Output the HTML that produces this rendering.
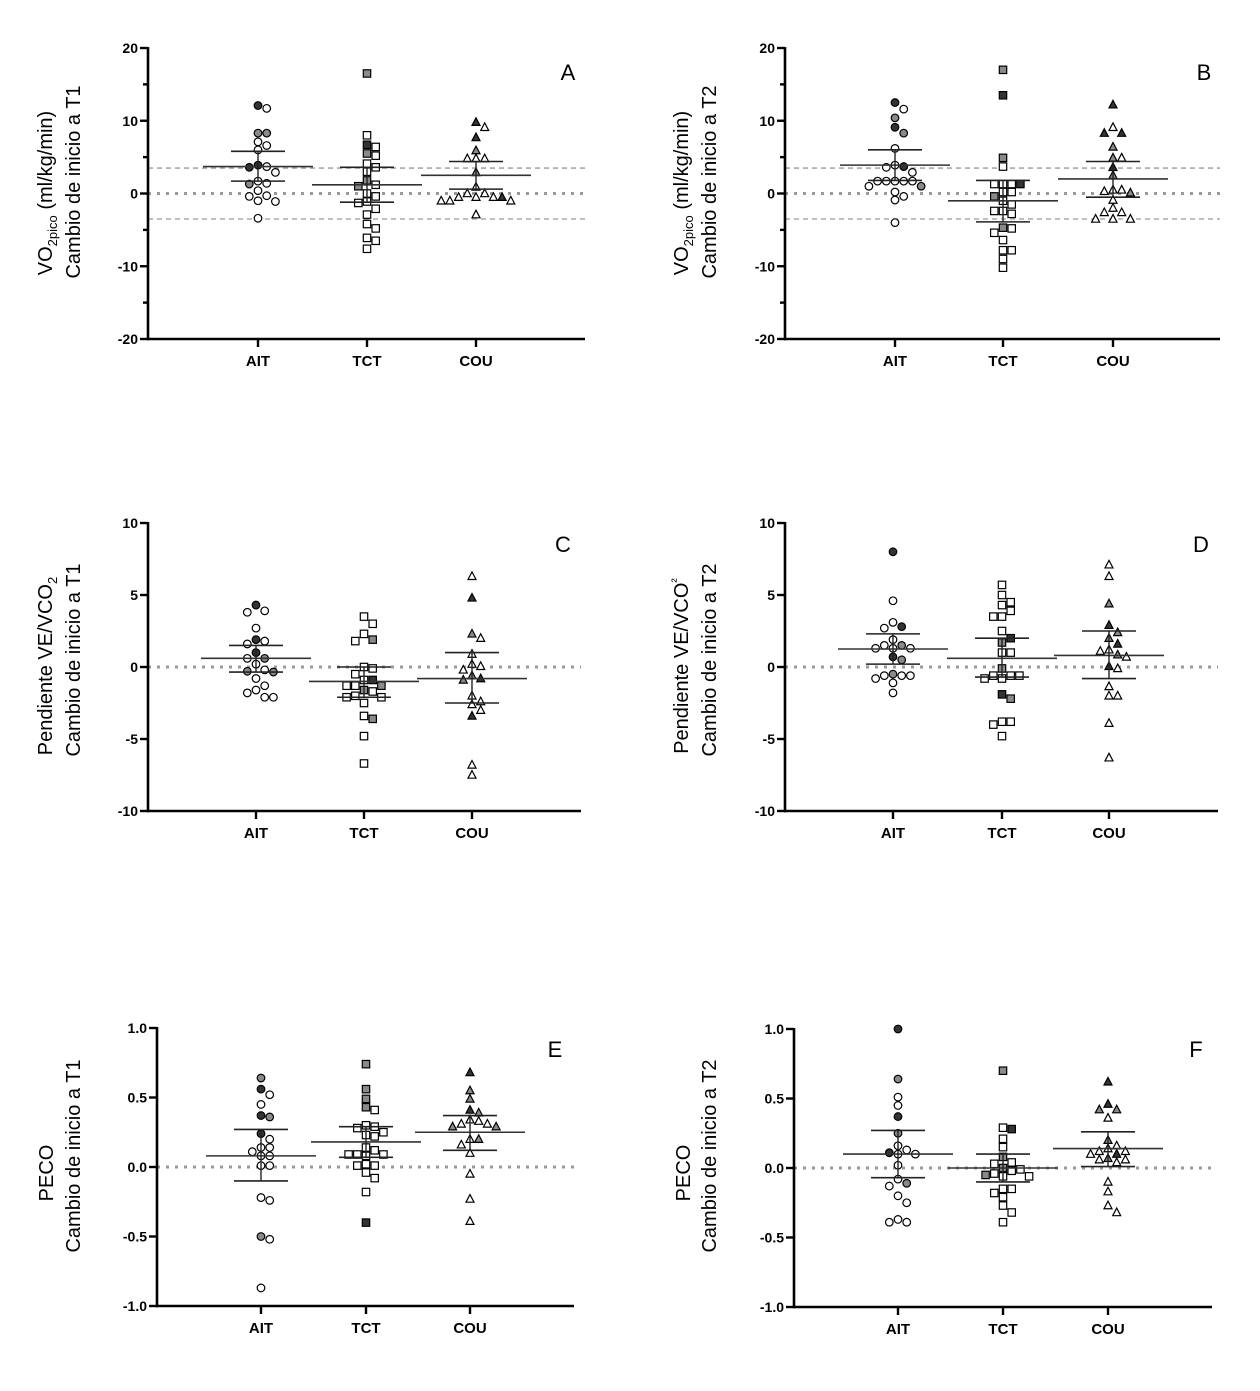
<!DOCTYPE html>
<html><head><meta charset="utf-8">
<style>
html,body{margin:0;padding:0;background:#fff;}
svg{display:block;font-family:"Liberation Sans",sans-serif;}
</style></head>
<body>
<svg id="chart" width="1260" height="1391" viewBox="0 0 1260 1391" xmlns="http://www.w3.org/2000/svg"></svg>
<script>
const categories = ["AIT","TCT","COU"];
// Panel A
const aAITvals=[12.1,11.7,8.3,8.3,7.1,6.6,6.0,3.9,3.6,3.7,2.9,1.7,1.4,1.3,0.4,-0.4,-0.3,-1.0,-1.1,-3.4];
const aAITfill="dwggwwwddwwwwgwwwwww";
const aTCTvals=[16.5,8.0,6.7,6.4,5.5,5.2,4.1,3.6,3.0,1.8,1.0,1.2,0,-0.4,-1.1,-1.3,-2.1,-2.9,-4.2,-4.8,-6.1,-6.5,-7.6];
const aTCTfill="gwdwgwwwwggwwwwwwwwwwww";
const aCOUvals=[9.8,9.1,7.7,5.9,4.8,4.8,4.8,2.9,0.9,0.0,0.0,-0.5,-0.5,-0.5,-0.5,-1.0,-1.0,-1.0,-2.9];
const aCOUfill="dwdgwwwgwwwwwwdwwww";
const aMeans=[3.7,1.2,2.5], aLo=[1.7,-1.2,0.6], aHi=[5.8,3.6,4.4];
// Panel B
const bAITvals=[12.5,11.6,10.4,9.1,8.3,6.2,3.9,3.6,3.7,2.9,1.7,1.7,1.7,1.7,1.7,1.0,1.0,0.2,-0.4,-0.9,-4.0];
const bAITfill="dwgdgwwwdwwwwwwgwwwww";
const bTCTvals=[17.0,13.5,4.9,3.7,1.3,1.3,1.3,1.3,0.2,0.2,-0.4,-1.0,-1.5,-2.4,-2.4,-2.8,-4.7,-4.8,-5.4,-6.4,-7.8,-7.8,-9.0,-10.2];
const bTCTfill="gdgwwwwdwwgwwwwwgwwwwwww";
const bCOUvals=[12.2,9.1,8.3,8.3,6.4,4.9,4.9,3.6,2.5,0.5,0.5,0.1,0.3,-0.9,-2.0,-2.6,-2.6,-3.5,-3.5,-3.5];
const bCOUfill="dwddggwdgwwgwwwwwwww";
const bMeans=[3.9,-1.0,2.0], bLo=[1.8,-3.9,-0.5], bHi=[6.0,1.8,4.4];
// Panel C
const cAITvals=[4.3,3.9,3.8,2.7,1.9,1.8,1.6,1.0,0.6,0.6,0.2,-0.2,-0.3,-0.35,-0.8,-1.3,-1.6,-1.8,-2.1,-2.1];
const cAITfill="dwwwdwwdgwwwggwwwwww";
const cTCTvals=[3.5,3.0,2.3,1.9,1.8,0,-0.1,-0.5,-0.9,-0.9,-1.3,-1.3,-1.3,-1.6,-1.7,-2.1,-2.1,-2.0,-2.5,-3.4,-3.6,-4.8,-6.7];
const cTCTfill="wwwgwwwwwdwgwgwwwwwwgww";
const cCOUvals=[6.3,4.8,2.3,2.0,0.9,0.2,0.05,-0.2,-0.6,-0.8,-0.9,-2.0,-2.4,-2.6,-3.0,-3.4,-6.8,-7.5];
const cCOUfill="wdgwwwwwgdgwwwwdww";
const cMeans=[0.6,-1.0,-0.8], cLo=[-0.35,-2.1,-2.5], cHi=[1.5,0,1.0];
// Panel D
const dAITvals=[8.0,4.6,3.1,2.8,2.7,1.9,1.5,1.5,1.3,1.3,1.3,0.7,0.5,-0.5,-0.6,-0.6,-0.6,-0.8,-1.1,-1.8];
const dAITfill="dwwdwwgwwwwdggwwwwww";
const dTCTvals=[5.7,5.0,4.5,4.3,3.9,3.5,3.5,2.5,2.0,1.7,1.0,1.0,-0.1,-0.6,-0.6,-0.6,-0.8,-0.8,-1.9,-2.2,-3.8,-3.8,-4.0,-4.8];
const dTCTfill="wwwwwwwwdgwwgwwwwwdgwwww";
const dCOUvals=[7.1,6.3,4.4,2.9,2.4,2.0,1.6,1.2,1.1,0.85,0.7,0.05,-0.1,-1.35,-2.0,-2.0,-3.9,-6.3];
const dCOUfill="wwgdggdwwgwdwwwwww";
const dMeans=[1.25,0.6,0.8], dLo=[0.2,-0.7,-0.8], dHi=[2.3,2.0,2.5];
// Panel E
const eAITvals=[0.64,0.56,0.52,0.45,0.37,0.36,0.24,0.2,0.14,0.14,0.11,0.08,0.08,0.01,0.01,-0.22,-0.24,-0.5,-0.52,-0.87];
const eAITfill="gdwwdgdwwwwwwwwwwgww";
const eTCTvals=[0.74,0.56,0.49,0.43,0.41,0.3,0.29,0.28,0.25,0.23,0.22,0.14,0.12,0.09,0.09,0.09,0.08,0.02,0.01,0.01,-0.04,-0.08,-0.18,-0.4];
const eTCTfill="ggggwwwwwwwwwwwwwwwwwwwd";
const eCOUvals=[0.68,0.55,0.49,0.41,0.39,0.34,0.33,0.31,0.31,0.29,0.29,0.2,0.2,0.16,0.1,-0.05,-0.23,-0.39];
const eCOUfill="dggdgwwwwggwgwwwww";
const eMeans=[0.08,0.18,0.25], eLo=[-0.1,0.07,0.12], eHi=[0.27,0.29,0.37];
// Panel F
const fAITvals=[1.0,0.64,0.51,0.45,0.37,0.25,0.16,0.13,0.11,0.1,0.1,0.02,-0.08,-0.11,-0.13,-0.2,-0.25,-0.37,-0.39,-0.39];
const fAITfill="dgwwdgwwdwwwwgwwwwww";
const fTCTvals=[0.7,0.29,0.28,0.21,0.15,0.08,0.04,0.03,0.0,-0.01,-0.02,-0.04,-0.05,-0.06,-0.06,-0.15,-0.15,-0.18,-0.21,-0.27,-0.32,-0.39];
const fTCTfill="gwdwwgwwgwwwgwwwwwwwww";
const fCOUvals=[0.62,0.46,0.42,0.42,0.36,0.2,0.16,0.14,0.12,0.12,0.1,0.1,0.07,0.06,0.06,0.04,-0.1,-0.17,-0.27,-0.32];
const fCOUfill="ddggwgwwwwdwgwwwwwww";
const fMeans=[0.1,0.0,0.14], fLo=[-0.07,-0.1,0.01], fHi=[0.27,0.1,0.26];
// tick label arrays
const ticksAB=[20,10,0,-10,-20], minorAB=[15,5,-5,-15];
const ticksCD=[10,5,0,-5,-10];
const ticksEF=[1.0,0.5,0.0,-0.5,-1.0];

const NS="http://www.w3.org/2000/svg";
const svg=document.getElementById('chart');
function mk(tag,attrs,parent){const e=document.createElementNS(NS,tag);for(const k in attrs)e.setAttribute(k,attrs[k]);(parent||svg).appendChild(e);return e;}
const FILL={w:"#ffffff",g:"#8a8a8a",d:"#333333"};

const panels=[
 {id:"a",letter:"A",ax:148,top:48,bot:339,right:585,cats:[258,367,476],min:-20,max:20,ticks:ticksAB,minor:minorAB,dec:0,
  groups:[[aAITvals,aAITfill],[aTCTvals,aTCTfill],[aCOUvals,aCOUfill]],means:aMeans,lo:aLo,hi:aHi,ref:3.5,
  t1:{x:52,y:193,txt:"VO2"},t2:{x:80,y:182,txt:"Cambio de inicio a T1"},lx:568,ly:80},
 {id:"b",letter:"B",ax:785,top:48,bot:339,right:1220,cats:[895,1003,1113],min:-20,max:20,ticks:ticksAB,minor:minorAB,dec:0,
  groups:[[bAITvals,bAITfill],[bTCTvals,bTCTfill],[bCOUvals,bCOUfill]],means:bMeans,lo:bLo,hi:bHi,ref:3.5,
  t1:{x:688,y:193,txt:"VO2"},t2:{x:716,y:182,txt:"Cambio de inicio a T2"},lx:1204,ly:80},
 {id:"c",letter:"C",ax:148,top:523,bot:811,right:581,cats:[256,364,472],min:-10,max:10,ticks:ticksCD,minor:[],dec:0,
  groups:[[cAITvals,cAITfill],[cTCTvals,cTCTfill],[cCOUvals,cCOUfill]],means:cMeans,lo:cLo,hi:cHi,ref:null,
  t1:{x:52,y:666,txt:"Pendiente VE/VCO",sup:"2",sub:true},t2:{x:80,y:660,txt:"Cambio de inicio a T1"},lx:563,ly:552},
 {id:"d",letter:"D",ax:785,top:523,bot:811,right:1218,cats:[893,1002,1109],min:-10,max:10,ticks:ticksCD,minor:[],dec:0,
  groups:[[dAITvals,dAITfill],[dTCTvals,dTCTfill],[dCOUvals,dCOUfill]],means:dMeans,lo:dLo,hi:dHi,ref:null,
  t1:{x:688,y:666,txt:"Pendiente VE/VCO",sup:"2",sub:false},t2:{x:716,y:660,txt:"Cambio de inicio a T2"},lx:1201,ly:552},
 {id:"e",letter:"E",ax:157,top:1028,bot:1306,right:574,cats:[261,366,470],min:-1,max:1,ticks:ticksEF,minor:[],dec:1,
  groups:[[eAITvals,eAITfill],[eTCTvals,eTCTfill],[eCOUvals,eCOUfill]],means:eMeans,lo:eLo,hi:eHi,ref:null,
  t1:{x:53,y:1173,txt:"PECO"},t2:{x:80,y:1156,txt:"Cambio de inicio a T1"},lx:555,ly:1057},
 {id:"f",letter:"F",ax:794,top:1029,bot:1307,right:1212,cats:[898,1003,1108],min:-1,max:1,ticks:ticksEF,minor:[],dec:1,
  groups:[[fAITvals,fAITfill],[fTCTvals,fTCTfill],[fCOUvals,fCOUfill]],means:fMeans,lo:fLo,hi:fHi,ref:null,
  t1:{x:690,y:1173,txt:"PECO"},t2:{x:716,y:1156,txt:"Cambio de inicio a T2"},lx:1196,ly:1057}
];

panels.forEach(p=>{
  const g=mk('g',{});
  
  
  const y=v=>p.bot-(v-p.min)/(p.max-p.min)*(p.bot-p.top);
  if(p.ref!==null){
    [p.ref,-p.ref].forEach(r=>{
      const l=mk('line',{x1:p.ax,x2:p.right,y1:y(r),y2:y(r),stroke:"#999",'stroke-width':1.3,'stroke-dasharray':"5,4"},g);
      
      
    });
  }
  const z=mk('line',{x1:p.ax,x2:p.right,y1:y(0),y2:y(0),stroke:"#999",'stroke-width':3,'stroke-dasharray':"3,6"},g);
  
  
  const ya=mk('line',{x1:p.ax,x2:p.ax,y1:p.top-1,y2:p.bot+1.2,stroke:"#000",'stroke-width':2.6},g);
  
  
  const xa=mk('line',{x1:p.ax-1,x2:p.right,y1:p.bot,y2:p.bot,stroke:"#000",'stroke-width':2.6},g);
  
  
  p.ticks.forEach(t=>{
    mk('line',{x1:p.ax-8,x2:p.ax,y1:y(t),y2:y(t),stroke:"#000",'stroke-width':2.4},g);
    const tx=mk('text',{x:p.ax-10,y:y(t)+5,'text-anchor':'end','font-size':14,'font-weight':'bold'},g);
    tx.textContent=t.toFixed(p.dec);
    
    
  });
  p.minor.forEach(t=>{mk('line',{x1:p.ax-5,x2:p.ax,y1:y(t),y2:y(t),stroke:"#000",'stroke-width':2.4},g);});
  categories.forEach((c,i)=>{
    mk('line',{x1:p.cats[i],x2:p.cats[i],y1:p.bot,y2:p.bot+8,stroke:"#000",'stroke-width':2.4},g);
    const tx=mk('text',{x:p.cats[i],y:p.bot+27,'text-anchor':'middle','font-size':15,'font-weight':'bold'},g);
    tx.textContent=c;
    
    
  });
  const L=mk('text',{x:p.lx,y:p.ly,'text-anchor':'middle','font-size':22},g);
  L.textContent=p.letter;
  
  
  const t1=mk('text',{transform:`translate(${p.t1.x},${p.t1.y}) rotate(-90)`,'text-anchor':'middle','font-size':20},g);
  
  
  if(p.t1.txt==="VO2"){
    t1.appendChild(document.createTextNode("VO"));
    const s=mk('tspan',{'font-size':13,dy:5},t1); s.textContent="2pico";
    const r=mk('tspan',{dy:-5},t1); r.textContent=" (ml/kg/min)";
  } else if(p.t1.sup){
    t1.appendChild(document.createTextNode(p.t1.txt));
    const s=mk('tspan',{'font-size':13,dy:p.t1.sub?5:-8},t1); s.textContent=p.t1.sub?"2":"²";
  } else t1.textContent=p.t1.txt;
  const t2=mk('text',{transform:`translate(${p.t2.x},${p.t2.y}) rotate(-90)`,'text-anchor':'middle','font-size':20},g);
  t2.textContent=p.t2.txt;
  
  
  const shapes=['circle','square','triangle'];
  p.groups.forEach((gr,gi)=>{
    const vals=gr[0], fills=gr[1], cx=p.cats[gi];
    const idx=vals.map((v,i)=>i).sort((a,b)=>vals[b]-vals[a]);
    const placed=[];
    idx.forEach(i=>{
      const py=y(vals[i]); let off=0;
      for(let k=0;k<20;k++){
        const cand=k===0?0:(k%2? 1:-1)*Math.ceil(k/2)*8.7;
        if(!placed.some(q=>Math.abs(q.y-py)<8&&Math.abs(q.x-cand)<8)){off=cand;break;}
      }
      placed.push({x:off,y:py});
      const px=cx+off, f=FILL[fills[i]];
      let el;
      if(shapes[gi]==='circle') el=mk('circle',{cx:px,cy:py,r:3.8,fill:f,stroke:"#000",'stroke-width':1.2},g);
      else if(shapes[gi]==='square') el=mk('rect',{x:px-3.7,y:py-3.7,width:7.4,height:7.4,fill:f,stroke:"#000",'stroke-width':1.2},g);
      else el=mk('polygon',{points:`${px},${py-4.4} ${px+4},${py+3.2} ${px-4},${py+3.2}`,fill:f,stroke:"#000",'stroke-width':1.2},g);
      
      
    });
    const m=mk('line',{x1:cx-55,x2:cx+55,y1:y(p.means[gi]),y2:y(p.means[gi]),stroke:"#333",'stroke-width':1.6},g);
    
    
    [p.lo[gi],p.hi[gi]].forEach(v=>{
      const s=mk('line',{x1:cx-27,x2:cx+27,y1:y(v),y2:y(v),stroke:"#222",'stroke-width':1.6},g);
      
      
    });
    const vl=mk('line',{x1:cx,x2:cx,y1:y(p.lo[gi]),y2:y(p.hi[gi]),stroke:"#222",'stroke-width':1.4},g);
    
    
  });
});
</script>
</body></html>
